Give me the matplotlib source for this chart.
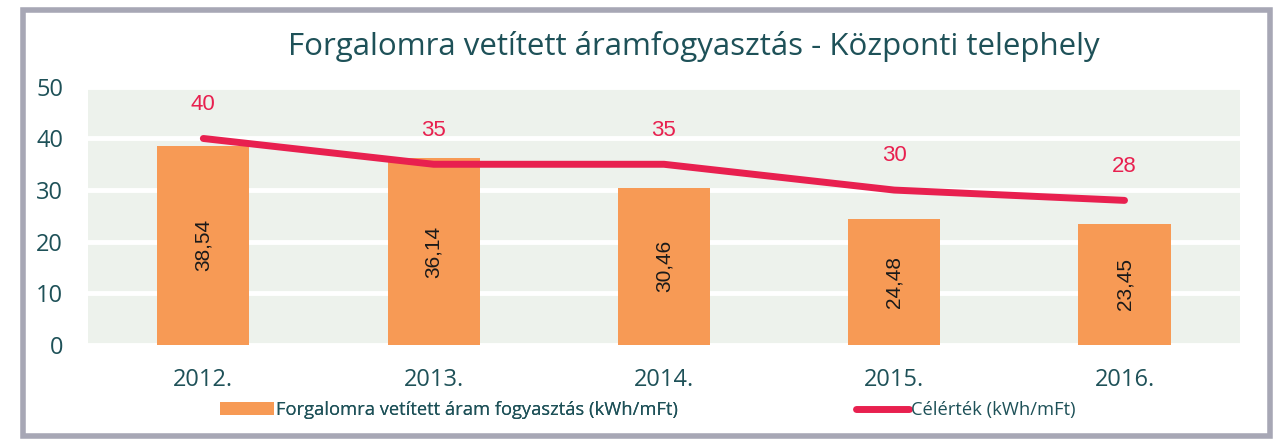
import matplotlib.pyplot as plt
from matplotlib.patches import Rectangle, Patch
from matplotlib.lines import Line2D

years = ["2012.", "2013.", "2014.", "2015.", "2016."]
consumption = [38.54, 36.14, 30.46, 24.48, 23.45]
target = [40, 35, 35, 30, 28]
yticks = [0, 10, 20, 30, 40, 50]

title = "Forgalomra vetített áramfogyasztás - Központi telephely"
bar_label = "Forgalomra vetített áram fogyasztás (kWh/mFt)"
line_label = "Célérték (kWh/mFt)"

teal = "#1e5158"
orange = "#f79a55"
red = "#e8204f"

plt.rcParams['font.family'] = ['Open Sans', 'DejaVu Sans']

fig = plt.figure(figsize=(12.78, 4.41), dpi=100)
ax = fig.add_axes([0.069, 0.218, 0.901, 0.585])

# banded background: light fill with thick white gridlines
ax.set_facecolor("#edf2ec")
ax.set_axisbelow(True)
ax.grid(axis='y', color='white', linewidth=3.5)
for s in ax.spines.values():
    s.set_visible(False)

x = list(range(len(years)))
ax.bar(x, consumption, width=0.4, color=orange, zorder=2)
for xi, v in zip(x, consumption):
    ax.text(xi, v / 2, f"{v:.2f}".replace(".", ","), rotation=90,
            ha='center', va='center', fontsize=15, color='#1a1a1a',
            family=['Liberation Sans'], zorder=4)

ax.plot(x, target, color=red, linewidth=5, solid_capstyle='round',
        solid_joinstyle='round', zorder=3)
for xi, v in zip(x, target):
    ax.annotate(str(v), (xi, v), xytext=(0, 17), textcoords='offset points',
                ha='center', va='bottom', fontsize=16, color=red,
                family=['Liberation Sans'])

ax.set_xlim(-0.5, 4.5)
ax.set_ylim(0, 50)
ax.set_yticks(yticks)
ax.set_xticks(x)
ax.set_xticklabels(years)
ax.tick_params(length=0, colors=teal)
ax.tick_params(axis='y', pad=18, labelsize=17)
ax.tick_params(axis='x', pad=17, labelsize=17)

fig.text(0.543, 0.895, title, ha='center', va='center', fontsize=22.5, color=teal)

# two legend entries placed separately, as in the original
leg1 = fig.legend([Patch(facecolor=orange, edgecolor='none')], [bar_label],
                  loc='center left', bbox_to_anchor=(0.1596, 0.07), frameon=False,
                  fontsize=13.2, labelcolor=teal, handlelength=2.9,
                  handletextpad=0.15)
fig.legend([Line2D([], [], color=red, linewidth=5, solid_capstyle='round')],
           [line_label], loc='center left', bbox_to_anchor=(0.6565, 0.07),
           frameon=False, fontsize=13.2, labelcolor=teal, handlelength=2.9,
           handletextpad=0.15)
fig.add_artist(leg1)

# scanned frame around the chart
fig.patches.append(Rectangle((0.018, 0.012), 0.976, 0.965, transform=fig.transFigure,
                             fill=False, edgecolor='#a7a7b5', linewidth=4))

fig.savefig("out.png", dpi=100)
